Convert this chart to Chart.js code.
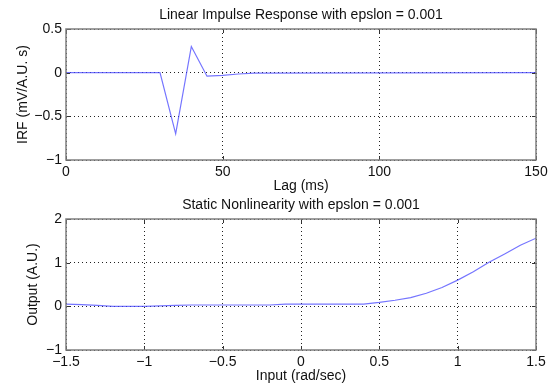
<!DOCTYPE html>
<html>
<head>
<meta charset="utf-8">
<script src="https://cdn.jsdelivr.net/npm/chart.js@4"></script>
<style>
  body { margin: 0; background: #fff; }
  #wrap { position: relative; width: 556px; height: 385px; }
  canvas { position: absolute; left: 0; }
  #irfChart { top: 0; }
  #nlChart { top: 190px; }
</style>
</head>
<body>
<div id="wrap">
  <canvas id="irfChart" width="556" height="195"></canvas>
  <canvas id="nlChart" width="556" height="195"></canvas>
</div>
<script>
// top panel: impulse response
const lagMs = [0, 30, 35, 40, 45, 50, 55, 60, 150];
const irfValues = [0, 0, -0.70, 0.30, -0.04, -0.03, -0.015, -0.005, 0];

// bottom panel: static nonlinearity
const inputRad = [-1.5, -1.4, -1.3, -1.2, -1.1, -1.0, -0.9, -0.8, -0.7, -0.6, -0.5,
    -0.4, -0.3, -0.2, -0.1, 0.0, 0.1, 0.2, 0.3, 0.4, 0.5, 0.6, 0.7, 0.8, 0.9,
    1.0, 1.1, 1.2, 1.3, 1.4, 1.5];
const outputValues = [0.05, 0.04, 0.02, 0.0, 0.0, 0.0, 0.01, 0.02, 0.03, 0.03, 0.03,
    0.03, 0.03, 0.03, 0.05, 0.05, 0.05, 0.05, 0.05, 0.05, 0.09, 0.14, 0.20, 0.30, 0.43,
    0.60, 0.79, 1.01, 1.20, 1.40, 1.56];

const FONT = 'Liberation Sans, Arial, Helvetica, sans-serif';
const minus = v => String(v).replace('-', '\u2212');

// matlab-ish box with inward ticks
const framePlugin = {
    id: 'frame',
    afterDraw(chart) {
        const { ctx, chartArea: a, scales } = chart;
        const len = 4;
        ctx.save();
        ctx.strokeStyle = '#333';
        ctx.lineWidth = 1;
        ctx.beginPath();
        scales.x.ticks.forEach(t => {
            const px = Math.round(scales.x.getPixelForValue(t.value)) + 0.5;
            ctx.moveTo(px, a.bottom); ctx.lineTo(px, a.bottom - len);
            ctx.moveTo(px, a.top); ctx.lineTo(px, a.top + len);
        });
        scales.y.ticks.forEach(t => {
            const py = Math.round(scales.y.getPixelForValue(t.value)) + 0.5;
            ctx.moveTo(a.left, py); ctx.lineTo(a.left + len, py);
            ctx.moveTo(a.right, py); ctx.lineTo(a.right - len, py);
        });
        ctx.stroke();
        ctx.strokeStyle = '#7f7f7f';
        ctx.lineWidth = 1.5;
        ctx.strokeRect(a.left, a.top, a.right - a.left, a.bottom - a.top);
        ctx.restore();
    }
};

function makeChart(id, xs, ys, opts) {
    const points = xs.map((x, i) => ({ x: x, y: ys[i] }));
    return new Chart(document.getElementById(id), {
        type: 'line',
        data: {
            datasets: [{
                data: points,
                borderColor: 'rgba(70, 70, 255, 0.75)',
                borderWidth: 1.2,
                pointRadius: 0,
                tension: 0
            }]
        },
        options: {
            responsive: false,
            animation: false,
            devicePixelRatio: 1,
            layout: { padding: { left: 0, right: 20, top: 0, bottom: 0 } },
            plugins: {
                legend: { display: false },
                tooltip: { enabled: false },
                title: {
                    display: true,
                    text: opts.title,
                    fullSize: false,
                    color: '#111',
                    font: { family: FONT, size: 14, weight: 'normal' },
                    padding: { top: 6.6, bottom: 5.6 }
                }
            },
            scales: {
                x: {
                    type: 'linear',
                    min: opts.xMin, max: opts.xMax,
                    afterFit: s => { s.height = 35; },
                    grid: { color: '#222', drawTicks: false, lineWidth: 1 },
                    border: { display: false, dash: [1, 3] },
                    ticks: {
                        stepSize: opts.xStep, autoSkip: false, maxRotation: 0,
                        padding: 4, color: '#111',
                        font: { family: FONT, size: 14 },
                        callback: minus
                    },
                    title: {
                        display: true, text: opts.xTitle, color: '#111',
                        font: { family: FONT, size: 14 },
                        padding: { top: 0, bottom: 0 }
                    }
                },
                y: {
                    min: opts.yMin, max: opts.yMax,
                    afterFit: s => { s.width = 66; },
                    grid: { color: '#222', drawTicks: false, lineWidth: 1 },
                    border: { display: false, dash: [1, 3] },
                    ticks: {
                        stepSize: opts.yStep, padding: 4, color: '#111',
                        font: { family: FONT, size: 14 },
                        callback: minus
                    },
                    title: {
                        display: true, text: opts.yTitle, color: '#111',
                        font: { family: FONT, size: 14 },
                        padding: { top: opts.yTitlePad, bottom: 0 }
                    }
                }
            }
        },
        plugins: [framePlugin]
    });
}

makeChart('irfChart', lagMs, irfValues, {
    title: 'Linear Impulse Response with epslon = 0.001',
    xTitle: 'Lag (ms)', yTitle: 'IRF (mV/A.U. s)',
    xMin: 0, xMax: 150, xStep: 50,
    yMin: -1, yMax: 0.5, yStep: 0.5,
    yTitlePad: 14.6
});

makeChart('nlChart', inputRad, outputValues, {
    title: 'Static Nonlinearity with epslon = 0.001',
    xTitle: 'Input (rad/sec)', yTitle: 'Output (A.U.)',
    xMin: -1.5, xMax: 1.5, xStep: 0.5,
    yMin: -1, yMax: 2, yStep: 1,
    yTitlePad: 24.6
});
</script>
</body>
</html>
